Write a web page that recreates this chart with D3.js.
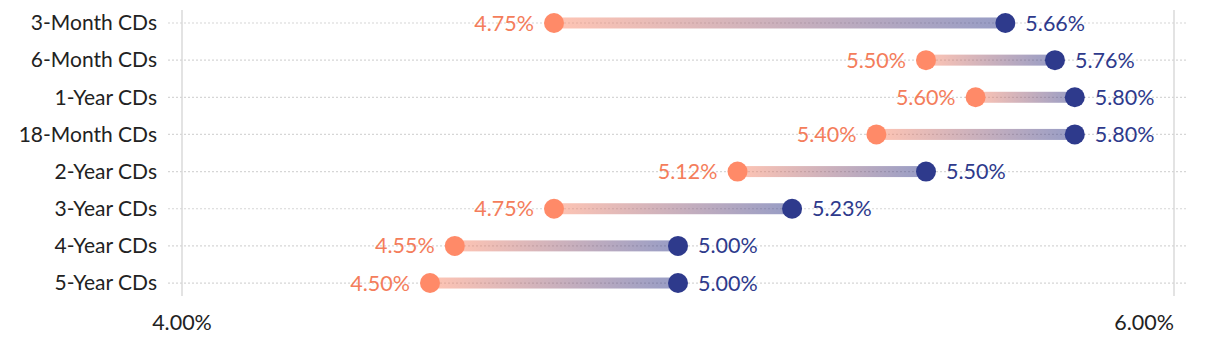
<!DOCTYPE html>
<html><head><meta charset="utf-8">
<script src="https://cdn.jsdelivr.net/npm/d3@7"></script>
<style>
body{margin:0;background:#fff;}
text{font-family:"Source Sans Pro","Lato","Noto Sans",sans-serif;}
</style></head>
<body><svg id="c" width="1220" height="346"></svg>
<script>
const categories = ["3-Month CDs","6-Month CDs","1-Year CDs","18-Month CDs","2-Year CDs","3-Year CDs","4-Year CDs","5-Year CDs"];
const lowValues = [4.75,5.50,5.60,5.40,5.12,4.75,4.55,4.50];
const highValues = [5.66,5.76,5.80,5.80,5.50,5.23,5.00,5.00];
const xTicks = [4.00,6.00];

const W=1220,H=346;
const m={left:182,right:46,top:4.4,bottom:44.4};
const svg=d3.select("#c");
const x=d3.scaleLinear().domain([4,6]).range([m.left,W-m.right]);
const y=d3.scaleBand().domain(categories).range([m.top,H-m.bottom]).padding(0);
const cy=d=>y(d)+y.bandwidth()/2;
const ORANGE="#ff8a68", BLUE="#2e3a8c";
const fmt=d=>d.toFixed(2)+"%";
const LABEL_FS=21, NUM_FS=21.5;

svg.append("g").selectAll("line").data(xTicks).join("line")
  .attr("x1",d=>x(d)).attr("x2",d=>x(d)).attr("y1",10).attr("y2",296)
  .attr("stroke","#e3e3e3").attr("stroke-width",2);

svg.append("g").selectAll("line").data(categories).join("line")
  .attr("x1",168).attr("x2",1186).attr("y1",cy).attr("y2",cy)
  .attr("stroke","#d6d6d6").attr("stroke-width",1.2).attr("stroke-dasharray","2,2");

svg.append("g").selectAll("text").data(categories).join("text")
  .attr("x",157).attr("y",cy).attr("dy","0.35em").attr("text-anchor","end")
  .attr("font-size",LABEL_FS).attr("fill","#222").text(d=>d);

svg.append("g").selectAll("text").data(xTicks).join("text")
  .attr("x",d=>x(d)).attr("y",322).attr("dy","0.35em")
  .attr("text-anchor",(d,i)=>i===xTicks.length-1?"end":"middle")
  .attr("font-size",NUM_FS).attr("fill","#222").text(fmt);

const defs=svg.append("defs");
categories.forEach((c,i)=>{
  const g=defs.append("linearGradient").attr("id","g"+i)
    .attr("gradientUnits","userSpaceOnUse")
    .attr("x1",x(lowValues[i])).attr("x2",x(highValues[i])).attr("y1",0).attr("y2",0);
  g.append("stop").attr("offset","0%").attr("stop-color",ORANGE);
  g.append("stop").attr("offset","100%").attr("stop-color",BLUE);
});

svg.append("g").selectAll("rect").data(categories).join("rect")
  .attr("x",(d,i)=>x(lowValues[i])).attr("y",d=>cy(d)-5.5)
  .attr("width",(d,i)=>x(highValues[i])-x(lowValues[i])).attr("height",11)
  .attr("fill",(d,i)=>`url(#g${i})`).attr("opacity",0.5);

svg.append("g").selectAll("circle").data(categories).join("circle")
  .attr("cx",(d,i)=>x(lowValues[i])).attr("cy",cy).attr("r",10).attr("fill",ORANGE);
svg.append("g").selectAll("circle").data(categories).join("circle")
  .attr("cx",(d,i)=>x(highValues[i])).attr("cy",cy).attr("r",10).attr("fill",BLUE);

svg.append("g").selectAll("text").data(categories).join("text")
  .attr("x",(d,i)=>x(lowValues[i])-20).attr("y",cy).attr("dy","0.35em")
  .attr("text-anchor","end").attr("font-size",NUM_FS).attr("fill","#f47d5b")
  .text((d,i)=>fmt(lowValues[i]));
svg.append("g").selectAll("text").data(categories).join("text")
  .attr("x",(d,i)=>x(highValues[i])+20).attr("y",cy).attr("dy","0.35em")
  .attr("text-anchor","start").attr("font-size",NUM_FS).attr("fill",BLUE)
  .text((d,i)=>fmt(highValues[i]));
</script></body></html>
